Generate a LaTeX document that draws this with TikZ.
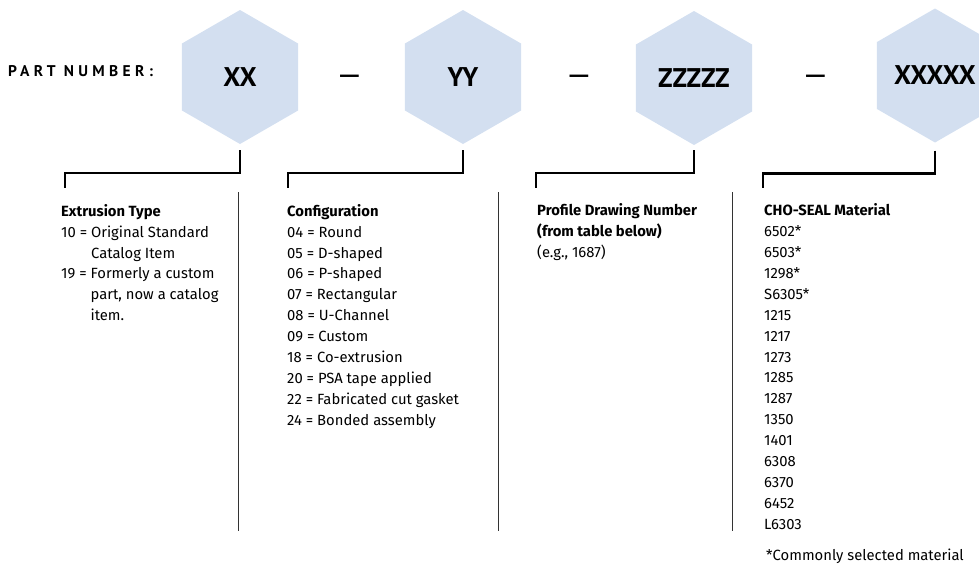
\documentclass[tikz,border=0pt]{standalone}
\usepackage{fontspec}
\setmainfont{Fira Sans}
\newfontfamily\hexfont{PT Sans}
\newfontfamily\spacedfont{PT Sans}[LetterSpace=28]
\usetikzlibrary{shapes.geometric,positioning}
\definecolor{hexblue}{HTML}{D3DFF0}

\begin{document}
\begin{tikzpicture}[x=1pt,y=-1pt,
    hexa/.style={regular polygon, regular polygon sides=6, shape border rotate=90,
                 fill=hexblue, minimum size=134pt, inner sep=0pt,
                 font=\hexfont\fontsize{27}{27}\selectfont\bfseries},
    bracket/.style={line width=2.5pt},
    sepline/.style={line width=1pt, black!80},
    col/.style={anchor=north west, align=left, inner sep=0pt,
                font=\fontsize{14.8}{20.9}\selectfont},
    sep/.style={inner sep=0pt, font=\hexfont\fontsize{32}{32}\selectfont}
  ]
  \useasboundingbox (0,0) rectangle (979,563);

  %% ---- part number row ----
  \node[anchor=west, inner sep=0pt, font=\spacedfont\fontsize{15.5}{15.5}\selectfont\bfseries]
    (label) at (8,71) {PART NUMBER:};

  \node[hexa] (xx)    at (240,77)   {XX};
  \node[hexa] (yy)    at (463,77)   {YY};
  \node[hexa] (zz)    at (694,78)   {ZZZZZ};
  \node[hexa] (mat)   at (935,75.5) {XXXXX};

  \node[sep] (d1) at (349.5,80) {—};
  \node[sep] (d2) at (579,80)   {—};
  \node[sep] (d3) at (815.5,80) {—};

  %% ---- columns ----
  \node[col] (ext) at (61,204)
    {\textbf{Extrusion Type}\\
     10 = Original Standard\\
     \hphantom{10 = }Catalog Item\\
     19 = Formerly a custom\\
     \hphantom{19 = }part, now a catalog\\
     \hphantom{19 = }item.};

  \node[col] (conf) at (287,204)
    {\textbf{Configuration}\\
     04 = Round\\
     05 = D-shaped\\
     06 = P-shaped\\
     07 = Rectangular\\
     08 = U-Channel\\
     09 = Custom\\
     18 = Co-extrusion\\
     20 = PSA tape applied\\
     22 = Fabricated cut gasket\\
     24 = Bonded assembly};

  \node[col] (prof) at (537,203.5)
    {\textbf{Profile Drawing Number}\\
     \textbf{(from table below)}\\
     (e.g., 1687)};

  \node[col] (matl) at (764,203.5)
    {\textbf{CHO-SEAL Material}\\
     6502*\\ 6503*\\ 1298*\\ S6305*\\ 1215\\ 1217\\ 1273\\ 1285\\
     1287\\ 1350\\ 1401\\ 6308\\ 6370\\ 6452\\ L6303};

  \node[col, anchor=base west] (note) at (766,560) {*Commonly selected material};

  %% ---- brackets ----
  \coordinate (c_ext)  at (65,188);
  \coordinate (c_conf) at (288,188);
  \coordinate (c_prof) at (536,188);
  \coordinate (c_matl) at (763,188);

  \draw[bracket] ([yshift=-6pt]xx.south)  -- ([yshift=-29pt]xx.south)  -| (c_ext);
  \draw[bracket] ([yshift=-6pt]yy.south)  -- ([yshift=-29pt]yy.south)  -| (c_conf);
  \draw[bracket] ([yshift=-5pt]zz.south)  -- ([yshift=-28pt]zz.south)  -| (c_prof);
  \draw[bracket] ([yshift=-8pt]mat.south) -- ([yshift=-31pt]mat.south) -| (c_matl);

  %% ---- dividers ----
  \draw[sepline] (238,192) -- (238,531);
  \draw[sepline] (498,192) -- (498,531);
  \draw[sepline] (732,192) -- (732,531);

\end{tikzpicture}
\end{document}
